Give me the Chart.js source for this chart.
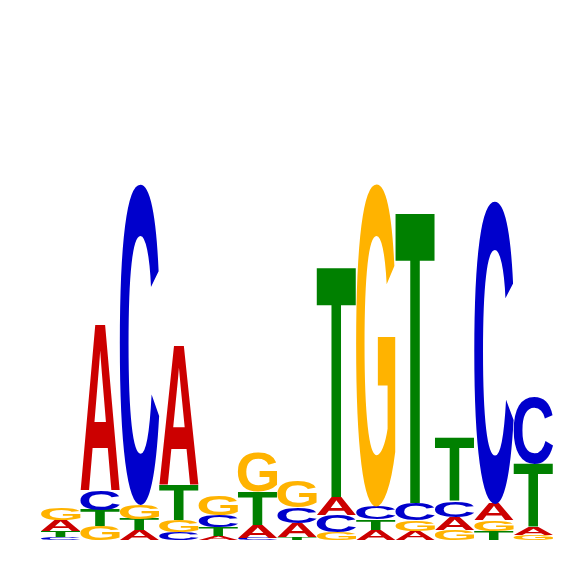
<!DOCTYPE html>
<html>
<head>
<meta charset="utf-8">
<script src="https://cdn.jsdelivr.net/npm/chart.js@4/dist/chart.umd.min.js"></script>
<style>
html,body{margin:0;padding:0;background:#fff;}
canvas{display:block;}
</style>
</head>
<body>
<canvas id="c" width="566" height="566"></canvas>
<script>
// Positions of the motif
const positions = ["1","2","3","4","5","6","7","8","9","10","11","12","13"];
// Letter heights (bits) per position
const A = [0.055,0.835,0.050,0.695,0.020,0.065,0.070,0.090,0.050,0.045,0.065,0.080,0.040];
const C = [0.015,0.095,1.605,0.040,0.060,0.010,0.080,0.085,0.065,0.085,0.080,1.515,0.335];
const G = [0.058,0.070,0.070,0.060,0.100,0.195,0.130,0.040,1.615,0.055,0.050,0.055,0.025];
const T = [0.030,0.080,0.055,0.175,0.045,0.165,0.015,1.155,0.052,1.460,0.315,0.045,0.315];
const letterNames = ["A","C","G","T"];
const letterColors = {A:"#CC0000", C:"#0000CC", G:"#FFB300", T:"#008000"};

const series = {A, C, G, T};
// build rank layers: smallest letter at the bottom of each column
const datasets = [0,1,2,3].map(() => ({data: [], letters: [], backgroundColor: "rgba(0,0,0,0)", borderWidth: 0}));
positions.forEach((p, i) => {
  const order = letterNames.slice().sort((a, b) => series[a][i] - series[b][i]);
  order.forEach((L, k) => {
    datasets[k].data.push(series[L][i]);
    datasets[k].letters.push(L);
  });
});

const logoPlugin = {
  id: "logoLetters",
  afterDatasetsDraw(chart) {
    const ctx = chart.ctx;
    ctx.save();
    ctx.font = 'bold 200px "Liberation Sans", Arial, sans-serif';
    ctx.textAlign = "left";
    ctx.textBaseline = "alphabetic";
    chart.data.datasets.forEach((ds, di) => {
      const meta = chart.getDatasetMeta(di);
      meta.data.forEach((el, i) => {
        const L = ds.letters[i];
        const w = el.width;
        const x0 = el.x - w / 2;
        const top = Math.min(el.y, el.base);
        const h = Math.abs(el.base - el.y);
        if (h <= 0.2) return;
        const m = ctx.measureText(L);
        const gl = m.actualBoundingBoxLeft, gr = m.actualBoundingBoxRight;
        const ga = m.actualBoundingBoxAscent, gd = m.actualBoundingBoxDescent;
        const gw = gl + gr, gh = ga + gd;
        ctx.save();
        ctx.translate(x0, top);
        ctx.scale(w / gw, h / gh);
        ctx.fillStyle = letterColors[L];
        ctx.fillText(L, gl, ga);
        ctx.restore();
      });
    });
    ctx.restore();
  }
};

new Chart(document.getElementById("c"), {
  type: "bar",
  data: {labels: positions, datasets},
  options: {
    responsive: false,
    animation: false,
    layout: {padding: {left: 41, right: 13, top: 140, bottom: 26}},
    datasets: {bar: {barPercentage: 1, categoryPercentage: 1}},
    plugins: {legend: {display: false}, tooltip: {enabled: false}},
    scales: {
      x: {stacked: true, display: false, offset: true},
      y: {stacked: true, display: false, min: 0, max: 2}
    }
  },
  plugins: [logoPlugin]
});
</script>
</body>
</html>
